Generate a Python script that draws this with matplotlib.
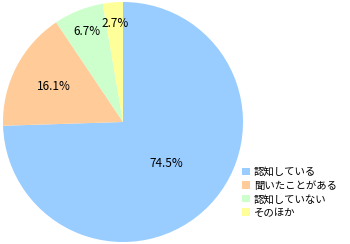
import numpy as np
import matplotlib
matplotlib.use("Agg")
import matplotlib.pyplot as plt

plt.rcParams["font.family"] = ["Noto Sans CJK JP", "DejaVu Sans"]

labels = ["認知している", "聞いたことがある", "認知していない", "そのほか"]
values = [74.5, 16.1, 6.7, 2.7]
colors = ["#99CCFF", "#FFCC99", "#CCFFCC", "#FFFF99"]
label_r = [0.5, 0.65, 0.81, 0.82]   # label distance from center (fraction of radius)

fig = plt.figure(figsize=(3.5, 2.44), dpi=100)
ax = fig.add_axes([3 / 350, 2 / 244, 240 / 350, 240 / 244])
wedges, _ = ax.pie(values, colors=colors, startangle=90, counterclock=False,
                   radius=1.0, wedgeprops=dict(linewidth=0))
ax.set_xlim(-1, 1)
ax.set_ylim(-1, 1)
ax.set_aspect("equal")

for w, v, r in zip(wedges, values, label_r):
    ang = np.deg2rad((w.theta1 + w.theta2) / 2)
    ax.text(r * np.cos(ang), r * np.sin(ang), f"{v:.1f}%",
            ha="center", va="center", fontsize=8.5, color="black")

fig.legend(wedges, labels, loc="upper left", bbox_to_anchor=(242 / 350, 1 - 167 / 244),
           frameon=False, fontsize=7.5, handlelength=0.75, handleheight=0.75,
           handletextpad=0.4, labelspacing=0.35, borderaxespad=0, borderpad=0)

fig.savefig("out.png", dpi=100)
